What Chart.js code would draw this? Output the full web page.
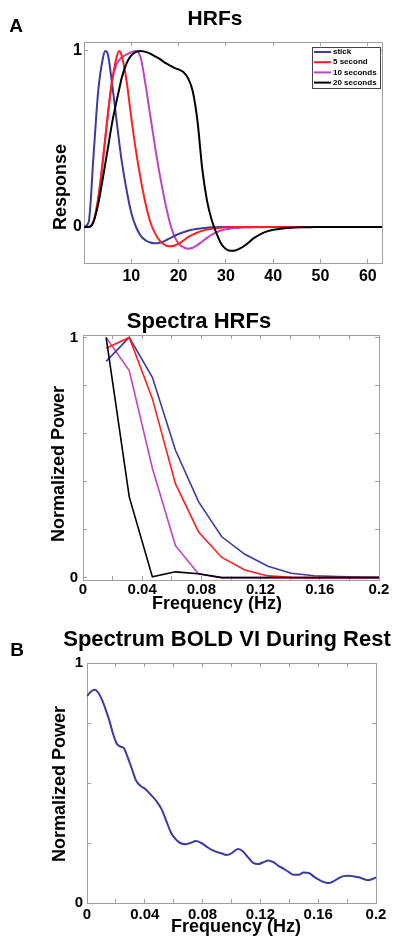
<!DOCTYPE html>
<html>
<head>
<meta charset="utf-8">
<script src="https://cdn.jsdelivr.net/npm/chart.js@4.4.1/dist/chart.umd.min.js"></script>
<style>
  html, body { margin: 0; padding: 0; background: #fff; overflow: hidden; }
  body { width: 395px; height: 942px; position: relative; }
  canvas { position: absolute; left: 0; }
</style>
</head>
<body>
<canvas id="hrf" width="395" height="300" style="top:0px"></canvas>
<canvas id="spectra" width="395" height="320" style="top:300px"></canvas>
<canvas id="bold" width="395" height="322" style="top:620px"></canvas>
<script>
// ---- HRFs (time in seconds) ----
const hrfTime = [0,1,2,3,4,4.5,5,6,7,7.5,8,9,10,11,12,13,14,15,16,17,18,19,20,21,22,23,24,25,26,27,28,29,30,31,32,33,34,
                 36,38,40,42,44,46,48,50,55,63];
const hrfStick = [0,0.03,0.40,0.77,0.96,1.0,0.985,0.80,0.58,0.47,0.37,0.21,
                  0.08,0.0,-0.05,-0.075,-0.088,-0.093,-0.09,-0.08,-0.066,-0.052,
                  -0.04,-0.03,-0.021,-0.015,-0.01,-0.007,-0.004,-0.002,-0.001,0,
                  0,0,0,0,0,
                  0,0,0,0,0,0,0,0,0,0];
const hrf5 = [0,0,0.03,0.16,0.38,0.505,0.63,0.84,0.975,1.0,0.97,0.83,
              0.62,0.43,0.27,0.135,0.03,-0.035,-0.078,-0.1,-0.11,-0.107,
              -0.095,-0.077,-0.058,-0.043,-0.031,-0.022,-0.015,-0.01,-0.006,-0.004,
              -0.002,-0.001,0,0,0,
              0,0,0,0,0,0,0,0,0,0];
const hrf10 = [0,0,0.03,0.16,0.38,0.505,0.63,0.84,0.93,0.95,0.965,0.98,
               0.993,1.0,0.96,0.81,0.635,0.46,0.30,0.16,0.04,-0.045,
               -0.095,-0.115,-0.123,-0.118,-0.102,-0.082,-0.062,-0.044,-0.03,-0.02,
               -0.013,-0.009,-0.006,-0.004,-0.003,
               -0.002,-0.001,0,0,0,0,0,0,0,0];
const hrf20 = [0,0,0.03,0.13,0.28,0.36,0.44,0.6,0.73,0.79,0.85,0.93,
               0.975,0.995,1.0,0.995,0.985,0.97,0.955,0.935,0.92,0.905,
               0.895,0.88,0.845,0.77,0.6,0.33,0.15,0.04,-0.035,-0.095,
               -0.125,-0.135,-0.133,-0.122,-0.105,
               -0.062,-0.032,-0.016,-0.008,-0.004,-0.002,-0.001,0,0,0];
const hrfLabels = ['stick', '5 second', '10 seconds', '20 seconds'];
const hrfTicksX = [10,20,30,40,50,60];
const hrfTicksY = [0,1];

// ---- spectra of the HRFs ----
const specFreq = [0.015625,0.03125,0.046875,0.0625,0.078125,0.09375,0.109375,0.125,0.140625,0.15625,0.171875,0.1875,0.203125];
const specStick = [0.90,1.0,0.834,0.53,0.315,0.17,0.097,0.047,0.018,0.008,0.004,0.002,0.001];
const spec5 = [0.955,1.0,0.745,0.39,0.19,0.084,0.032,0.007,0.001,0,0,0,0];
const spec10 = [1.0,0.862,0.455,0.133,0.015,0,0,0,0,0,0,0,0];
const spec20 = [1.0,0.336,0.003,0.024,0.016,0,0,0,0,0,0,0,0];
const specTicksY = [0,0.2,0.4,0.6,0.8,1];

// ---- resting state BOLD spectrum ----
const boldFreq = [0,0.003,0.0055,0.008,0.0105,0.013,0.0155,0.018,0.0205,0.023,
                  0.0255,0.028,0.031,0.034,0.037,0.0405,0.044,0.048,0.0515,0.055,
                  0.058,0.061,0.0645,0.068,0.0715,0.0755,0.079,0.0825,0.086,0.0895,
                  0.093,0.0965,0.1,0.1045,0.108,0.1115,0.115,0.1185,0.122,0.1255,
                  0.129,0.1325,0.136,0.1395,0.143,0.1465,0.15,0.1535,0.157,0.1605,
                  0.1635,0.167,0.1705,0.174,0.1775,0.181,0.1845,0.188,0.1915,0.1945,
                  0.1975,0.2];
const boldPower = [0.862,0.882,0.889,0.875,0.845,0.805,0.76,0.705,0.665,0.652,
                   0.645,0.61,0.56,0.51,0.488,0.474,0.452,0.425,0.392,0.34,
                   0.295,0.268,0.25,0.245,0.25,0.258,0.25,0.236,0.222,0.213,
                   0.207,0.2,0.207,0.225,0.215,0.19,0.167,0.162,0.17,0.177,
                   0.17,0.155,0.143,0.13,0.118,0.118,0.127,0.125,0.11,0.097,
                   0.088,0.083,0.09,0.103,0.112,0.114,0.111,0.107,0.1,0.095,
                   0.1,0.107];
const boldTicksY = [0,0.25,0.5,0.75,1];

const freqTicks = [0,0.02,0.04,0.06,0.08,0.1,0.12,0.14,0.16,0.18,0.2];
const freqTickLabels = ['0','','0.04','','0.08','','0.12','','0.16','','0.2'];

const BLUE = '#3b3ba0', RED = '#ff1f1f', MAGENTA = '#c043c0', BLACK = '#000000';
const GRAY = '#a0a0a0';
const FONT = '"Liberation Sans", Arial, sans-serif';

function pts(xs, ys) {
  return xs.map((x, i) => ({ x: x, y: ys[i] }));
}

// value -> label only for 0 and 1 on the y axes
function yLabel(v) {
  if (v === 0) return '0';
  if (v === 1) return '1';
  return '';
}

function axis(pos, min, max, ticks, labelFn, size, fontSize, pad) {
  const horiz = pos === 'top' || pos === 'bottom';
  const main = pos === 'bottom' || pos === 'left';
  return {
    type: 'linear', position: pos, min: min, max: max,
    afterBuildTicks: s => { s.ticks = ticks.map(v => ({ value: v })); },
    afterFit: s => {
      if (horiz) s.height = main ? size : 0; else s.width = main ? size : 0;
      s.paddingLeft = 0; s.paddingRight = 0; s.paddingTop = 0; s.paddingBottom = 0;
    },
    grid: { drawOnChartArea: false, drawTicks: true, tickLength: -4, color: GRAY, tickColor: GRAY, lineWidth: 1 },
    border: { display: true, color: GRAY, width: 1 },
    ticks: {
      display: main, autoSkip: false, maxRotation: 0, minRotation: 0, padding: pad, color: '#000',
      font: { family: FONT, size: fontSize, weight: 'bold' },
      callback: labelFn
    }
  };
}

// free text: titles, axis names, panel letters
const panelText = {
  id: 'panelText',
  afterDraw(chart, args, opts) {
    const ctx = chart.ctx;
    (opts.items || []).forEach(it => {
      ctx.save();
      ctx.font = 'bold ' + it.size + 'px ' + FONT;
      ctx.fillStyle = '#000';
      ctx.textAlign = 'center';
      ctx.textBaseline = 'middle';
      ctx.translate(it.x, it.y);
      if (it.rotate) ctx.rotate(-Math.PI / 2);
      ctx.fillText(it.text, 0, 0);
      ctx.restore();
    });
  }
};

// small boxed legend inside the HRF plot (matlab style)
const boxLegend = {
  id: 'boxLegend',
  afterDatasetsDraw(chart, args, o) {
    if (!o.show) return;
    const ctx = chart.ctx;
    ctx.save();
    ctx.fillStyle = '#fff';
    ctx.fillRect(o.left, o.top, o.width, o.height);
    ctx.strokeStyle = '#444';
    ctx.lineWidth = 1;
    ctx.strokeRect(o.left + 0.5, o.top + 0.5, o.width, o.height);
    ctx.font = 'bold ' + o.size + 'px ' + FONT;
    ctx.textBaseline = 'middle';
    ctx.textAlign = 'left';
    chart.data.datasets.forEach((ds, i) => {
      const y = o.top + o.first + o.row * i;
      ctx.strokeStyle = ds.borderColor;
      ctx.lineWidth = 2;
      ctx.beginPath();
      ctx.moveTo(o.left + 2, y);
      ctx.lineTo(o.left + 2 + o.lineLen, y);
      ctx.stroke();
      ctx.fillStyle = '#000';
      ctx.fillText(ds.label, o.left + 4 + o.lineLen, y);
    });
    ctx.restore();
  }
};

function baseOptions(pad, scales, texts, legend) {
  return {
    responsive: false, animation: false, devicePixelRatio: 1,
    layout: { padding: pad },
    elements: { point: { radius: 0 } },
    scales: scales,
    plugins: {
      legend: { display: false }, tooltip: { enabled: false }, title: { display: false },
      panelText: { items: texts },
      boxLegend: legend || { show: false }
    }
  };
}

// ---- panel A: HRFs ----
new Chart(document.getElementById('hrf'), {
  type: 'line',
  data: {
    datasets: [
      { label: hrfLabels[0], data: pts(hrfTime, hrfStick), borderColor: BLUE, borderWidth: 2, cubicInterpolationMode: 'monotone', order: 2 },
      { label: hrfLabels[1], data: pts(hrfTime, hrf5), borderColor: RED, borderWidth: 2, cubicInterpolationMode: 'monotone', order: 1 },
      { label: hrfLabels[2], data: pts(hrfTime, hrf10), borderColor: MAGENTA, borderWidth: 2, cubicInterpolationMode: 'monotone', order: 3 },
      { label: hrfLabels[3], data: pts(hrfTime, hrf20), borderColor: BLACK, borderWidth: 2, cubicInterpolationMode: 'monotone', order: 0 }
    ]
  },
  options: baseOptions(
    { left: 0, top: 42, right: 13, bottom: 7 },
    {
      x: axis('bottom', 0, 63, hrfTicksX, v => String(v), 30, 16, 8),
      x2: axis('top', 0, 63, hrfTicksX, () => '', 0, 16, 0),
      y: axis('left', -0.2045, 1.051, hrfTicksY, yLabel, 84, 16, 6),
      y2: axis('right', -0.2045, 1.051, hrfTicksY, () => '', 0, 16, 0)
    },
    [
      { text: 'A', x: 16, y: 27, size: 19 },
      { text: 'HRFs', x: 215, y: 19, size: 21 },
      { text: 'Response', x: 61, y: 187, size: 18, rotate: true }
    ],
    { show: true, left: 312, top: 47, width: 68, height: 41, first: 5, row: 10.2, lineLen: 17, size: 8 }
  ),
  plugins: [panelText, boxLegend]
});

// ---- spectra of HRFs ----
new Chart(document.getElementById('spectra'), {
  type: 'line',
  data: {
    datasets: [
      { label: hrfLabels[0], data: pts(specFreq, specStick), borderColor: BLUE, borderWidth: 1.6, tension: 0, order: 2 },
      { label: hrfLabels[1], data: pts(specFreq, spec5), borderColor: RED, borderWidth: 1.6, tension: 0, order: 1 },
      { label: hrfLabels[2], data: pts(specFreq, spec10), borderColor: MAGENTA, borderWidth: 1.6, tension: 0, order: 3 },
      { label: hrfLabels[3], data: pts(specFreq, spec20), borderColor: BLACK, borderWidth: 1.6, tension: 0, order: 0 }
    ]
  },
  options: baseOptions(
    { left: 0, top: 35, right: 16, bottom: 10 },
    {
      x: axis('bottom', 0, 0.2, freqTicks, (v, i) => freqTickLabels[i], 30, 15, 5),
      x2: axis('top', 0, 0.2, freqTicks, () => '', 0, 15, 0),
      y: axis('left', -0.01, 1.01, specTicksY, yLabel, 83, 15, 9),
      y2: axis('right', -0.01, 1.01, specTicksY, () => '', 0, 15, 0)
    },
    [
      { text: 'Spectra HRFs', x: 199, y: 22, size: 22 },
      { text: 'Normalized Power', x: 59, y: 164, size: 18, rotate: true },
      { text: 'Frequency (Hz)', x: 217, y: 304, size: 18 }
    ]
  ),
  plugins: [panelText]
});

// ---- panel B: resting BOLD spectrum ----
new Chart(document.getElementById('bold'), {
  type: 'line',
  data: {
    datasets: [
      { label: 'BOLD', data: pts(boldFreq, boldPower), borderColor: BLUE, borderWidth: 2, cubicInterpolationMode: 'monotone' }
    ]
  },
  options: baseOptions(
    { left: 0, top: 43, right: 19, bottom: 9 },
    {
      x: axis('bottom', 0, 0.2, freqTicks, (v, i) => freqTickLabels[i], 30, 15, 7),
      x2: axis('top', 0, 0.2, freqTicks, () => '', 0, 15, 0),
      y: axis('left', 0, 1, boldTicksY, yLabel, 87, 15, 8),
      y2: axis('right', 0, 1, boldTicksY, () => '', 0, 15, 0)
    },
    [
      { text: 'B', x: 17, y: 31, size: 19 },
      { text: 'Spectrum BOLD VI During Rest', x: 227, y: 20, size: 22 },
      { text: 'Normalized Power', x: 60, y: 164, size: 18, rotate: true },
      { text: 'Frequency (Hz)', x: 236, y: 307, size: 18 }
    ]
  ),
  plugins: [panelText]
});
</script>
</body>
</html>
